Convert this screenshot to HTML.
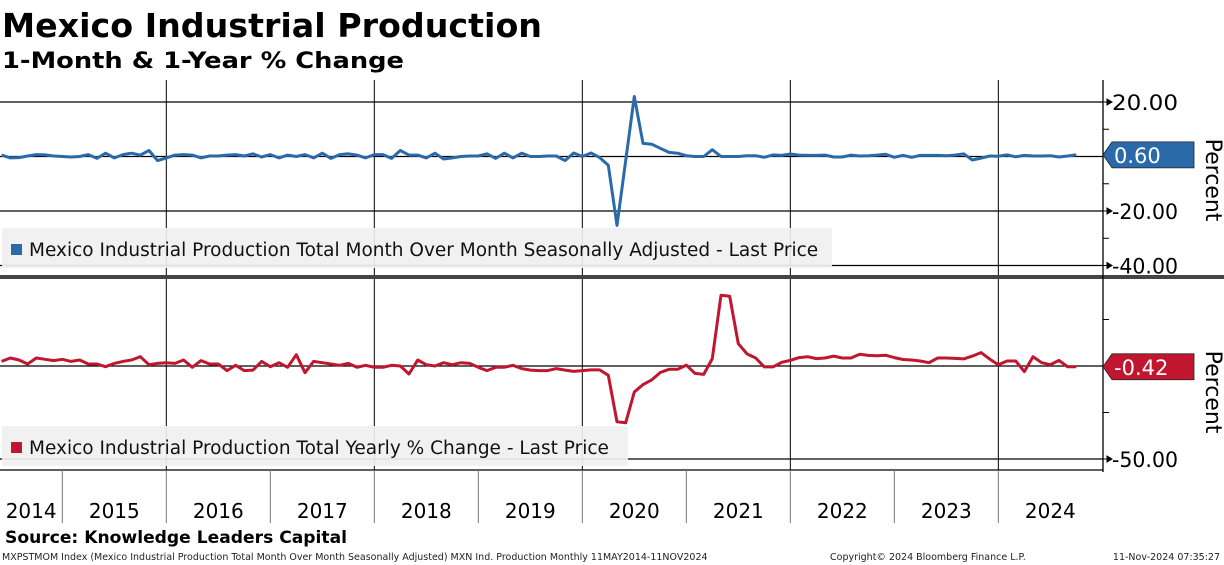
<!DOCTYPE html>
<html><head><meta charset="utf-8">
<style>
body{margin:0;background:#fff;width:1224px;height:565px;overflow:hidden;font-family:"DejaVu Sans","Liberation Sans",sans-serif}
svg{position:absolute;left:0;top:0}
</style></head>
<body>
<svg id="chart" width="1224" height="565" viewBox="0 0 1224 565" xmlns="http://www.w3.org/2000/svg">
<text x="2" y="37" font-family="DejaVu Sans, sans-serif" font-weight="bold" font-size="33" textLength="540" lengthAdjust="spacingAndGlyphs">Mexico Industrial Production</text>
<text x="2" y="68" font-family="DejaVu Sans, sans-serif" font-weight="bold" font-size="22" textLength="402" lengthAdjust="spacingAndGlyphs">1-Month &amp; 1-Year % Change</text>
<g id="grid"></g>
<g id="series"></g>
<g id="axes"></g>
</svg>
<script>
const yearLabels = ["2014","2015","2016","2017","2018","2019","2020","2021","2022","2023","2024"];
const topTicks = [20, -20, -40];
const bottomTicks = [-50];
const startMonth = 5; // months since Jan 2014
const momValues = [0.5,-0.5,-0.4,0.2,0.7,0.6,0.2,0,-0.2,0,
0.7,-0.7,1.2,-0.5,0.7,1.2,0.5,2.2,-1.5,-0.5,
0.5,0.7,0.5,-0.5,0.2,0.2,0.5,0.7,0.2,1.0,
-0.2,0.7,-0.5,0.5,0,0.7,-0.5,1.2,-0.7,0.7,
1.0,0.5,-0.5,0.7,0.7,-0.7,2.2,0.5,0.5,-0.5,
1.2,-0.9,-0.5,0,0.2,0.2,1.0,-0.7,1.2,-0.5,
1.2,0,0,0.2,0.2,
-1.5,1.3,0,1.3,-0.4,-3.2,-25.3,-1.5,22,4.8,
4.5,3,1.5,1.2,0.3,0,0,2.5,0,0,
0,0.3,0.3,-0.3,0.6,0.4,0.9,0.5,0.4,0.4,
0.5,-0.2,-0.2,0.5,0.2,0.3,0.5,0.8,-0.3,0.4,
-0.3,0.4,0.4,0.4,0.3,0.5,1.0,-1.3,-0.6,0.2,
0.1,0.6,-0.1,0.4,0.2,0.2,0.3,-0.2,0.2,0.6];
const yoyValues = [2.5,4.3,3.2,1.1,4.3,3.6,2.9,3.6,2.5,3.2,
1.1,1.1,-0.4,1.4,2.5,3.2,5,0.7,1.4,1.8,
1.4,3.2,-0.7,2.9,1.1,1.1,-2.5,0.4,-2.5,-2.2,
2.5,-0.4,1.8,-0.7,6.1,-3.6,2.5,1.8,1.1,0.4,
1.4,-0.7,0.4,-0.7,-0.7,0.4,0,-4.3,3.2,0.7,
0,1.8,0.7,1.8,1.4,-0.7,-2.5,-0.7,-0.7,0.4,
-1.4,-2.2,-2.5,-2.5,-1.4,-2.2,-2.9,
-2.5,-2.1,-2.1,-5,-30,-30.5,-14,-10,-7.5,-3.5,
-1.8,-1.8,0.5,-4,-4.5,4,38,37.5,12,6.5,
4.3,-0.5,-0.5,2,3,4.5,5,4,4.3,5.3,
4.3,4.3,6.3,5.7,5.5,5.8,4.5,3.5,3.2,2.7,
1.8,4.3,4.3,4.1,3.8,5.3,7.2,3.7,0.7,2.7,
2.7,-3,5,1.8,0.7,3,-0.42,-0.42];

const NS="http://www.w3.org/2000/svg";
const xM = m => -41.7 + m*8.667;
const yTop = v => 156.5 - v*2.725;
const yBot = v => 366 - v*1.86;
function mk(tag, attrs, parent){const e=document.createElementNS(NS,tag);for(const k in attrs)e.setAttribute(k,attrs[k]);parent.appendChild(e);return e;}
const grid=document.getElementById('grid'), series=document.getElementById('series'), axes=document.getElementById('axes');

[20,0,-20,-40].forEach(v=>{const l=mk('line',{x1:0,x2:1103,y1:yTop(v),y2:yTop(v),stroke:'#000','stroke-width':1.3},grid);

});
[0,-50].forEach(v=>{const l=mk('line',{x1:0,x2:1103,y1:yBot(v),y2:yBot(v),stroke:'#000','stroke-width':1.3},grid);

});
[2016,2018,2020,2022,2024].forEach(y=>{const x=xM((y-2014)*12);
const l=mk('line',{x1:x,x2:x,y1:80,y2:470,stroke:'#000','stroke-width':1},grid);

});

function legend(y,w,color,text,name){
 const g=mk('g',{},series);
 
 
 mk('rect',{x:2,y:y,width:w,height:40,fill:'#f0f0f0','fill-opacity':0.92,rx:2},g);
 mk('rect',{x:11,y:y+16,width:11,height:11,fill:color},g);
 const t=mk('text',{x:29,y:y+28,'font-size':18.5,fill:'#111'},g);t.textContent=text;
}
function line(vals,yf,color,name){
 const pts=vals.map((v,i)=>xM(startMonth+i).toFixed(1)+','+yf(v).toFixed(1)).join(' ');
 const p=mk('polyline',{points:pts,fill:'none',stroke:color,'stroke-width':3,'stroke-linejoin':'round'},series);
 
 
}
line(momValues,yTop,'#2a6aa8','mom-line');
line(yoyValues,yBot,'#c0162f','yoy-line');
legend(228,830,'#2a6aa8','Mexico Industrial Production Total Month Over Month Seasonally Adjusted - Last Price','top-legend');
legend(426,626,'#c0162f','Mexico Industrial Production Total Yearly % Change - Last Price','bottom-legend');

let s=mk('rect',{x:0,y:275,width:1224,height:4,fill:'#444'},axes);


let ax=mk('line',{x1:1103,x2:1103,y1:80,y2:472,stroke:'#000','stroke-width':1.3},axes);


[10,-10,-30].forEach(v=>mk('line',{x1:1103,x2:1109,y1:yTop(v),y2:yTop(v),stroke:'#000'},axes));
[25,-25].forEach(v=>mk('line',{x1:1103,x2:1109,y1:yBot(v),y2:yBot(v),stroke:'#000'},axes));
function tick(y,label,name){
 mk('path',{d:`M1103 ${y} H1107 M1107 ${y-3} L1112 ${y} L1107 ${y+3}Z`,stroke:'#000',fill:'#000'},axes);
 if(label!==null){const t=mk('text',{x:1112,y:y+8,'font-size':21,textLength:66,lengthAdjust:'spacingAndGlyphs'},axes);t.textContent=label;
 
 }
}
topTicks.forEach(v=>tick(yTop(v),v.toFixed(2),'top-y-tick-label'));
bottomTicks.forEach(v=>tick(yBot(v),v.toFixed(2),'bottom-y-tick-label'));
function tag(y,color,text,name){
 const g=mk('g',{},axes);
 
 
 mk('path',{d:`M1103 ${y} L1112 ${y-13} H1194 V${y+13} H1112 Z`,fill:color,stroke:'#222','stroke-width':0.8},g);
 const t=mk('text',{x:1114,y:y+8,'font-size':21,fill:'#fff'},g);t.textContent=text;
}
tag(yTop(momValues[momValues.length-1]),'#2a6aa8',momValues[momValues.length-1].toFixed(2),'mom-last-value-tag');
tag(yBot(yoyValues[yoyValues.length-1]),'#c0162f',yoyValues[yoyValues.length-1].toFixed(2),'yoy-last-value-tag');
[[1206,180,'top-y-axis-title'],[1206,392,'bottom-y-axis-title']].forEach(([x,y,n])=>{
 const t=mk('text',{x:x,y:y,'font-size':22,'text-anchor':'middle',transform:`rotate(90 ${x} ${y})`},axes);t.textContent='Percent';
 
 });
mk('line',{x1:0,x2:1103,y1:470,y2:470,stroke:'#000','stroke-width':1.3},axes);
yearLabels.forEach((y,i)=>{
 const m=i*12, x0=Math.max(0,xM(m)), x1=Math.min(1103,xM(m+12));
 if(i>0){mk('line',{x1:x0,x2:x0,y1:470,y2:523,stroke:'#777','stroke-width':1},axes);}
 const t=mk('text',{x:(x0+x1)/2,y:518,'font-size':20,'text-anchor':'middle'},axes);t.textContent=y;
 
 
});
</script>
<svg width="1224" height="565" style="pointer-events:none">
<text x="5" y="543" font-family="DejaVu Sans, sans-serif" font-weight="bold" font-size="17" textLength="342" lengthAdjust="spacingAndGlyphs">Source: Knowledge Leaders Capital</text>
<text x="2" y="560" font-family="DejaVu Sans, sans-serif" font-size="9.5" fill="#222">MXPSTMOM Index (Mexico Industrial Production Total Month Over Month Seasonally Adjusted) MXN Ind. Production  Monthly 11MAY2014-11NOV2024</text>
<text x="830" y="560" font-family="DejaVu Sans, sans-serif" font-size="9.5" fill="#222">Copyright© 2024 Bloomberg Finance L.P.</text>
<text x="1220" y="560" text-anchor="end" font-family="DejaVu Sans, sans-serif" font-size="9.5" fill="#222">11-Nov-2024 07:35:27</text>
</svg>
</body></html>
